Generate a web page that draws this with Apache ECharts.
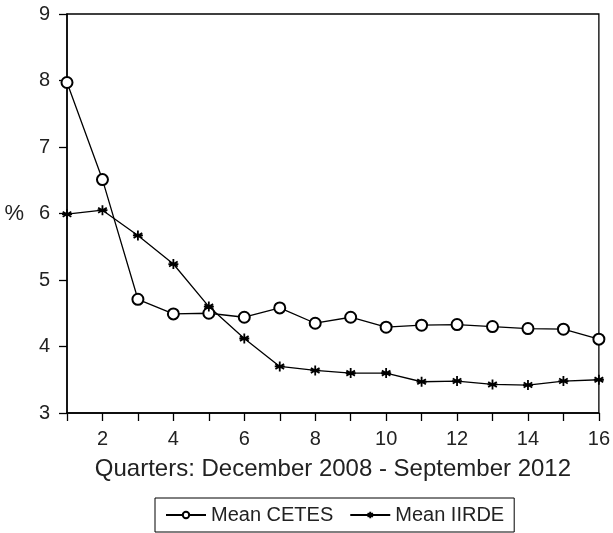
<!DOCTYPE html>
<html>
<head>
<meta charset="utf-8">
<script src="https://cdn.jsdelivr.net/npm/echarts@6/dist/echarts.min.js"></script>
<style>html,body{margin:0;padding:0;background:#fff}#c{width:613px;height:533px}</style>
</head>
<body>
<div id="c"></div>
<script>
var quarters = [1,2,3,4,5,6,7,8,9,10,11,12,13,14,15,16];
var meanCETES = [7.97,6.51,4.71,4.49,4.50,4.44,4.58,4.35,4.44,4.29,4.32,4.33,4.30,4.27,4.26,4.11];
var meanIIRDE = [5.99,6.05,5.67,5.24,4.60,4.12,3.70,3.64,3.60,3.60,3.47,3.48,3.43,3.42,3.48,3.50];
var yTicks = [3,4,5,6,7,8,9];
var xName = 'Quarters: December 2008 - September 2012';
var yName = '%';
var seriesNames = ['Mean CETES','Mean IIRDE'];

function pairs(xs, ys){ return xs.map(function(x,i){ return [x, ys[i]]; }); }
var font = 'Liberation Sans, Arial, Helvetica, sans-serif';
var star = 'path://M0,-5L0,5M-4.33,-2.5L4.33,2.5M-4.33,2.5L4.33,-2.5M-5,0L5,0';

var chart = echarts.init(document.getElementById('c'), null, {renderer:'canvas'});
chart.setOption({
  animation:false,
  backgroundColor:'#fff',
  textStyle:{fontFamily:font, color:'#000'},
  grid:{left:67, right:9, top:14, bottom:120, show:true, borderColor:'#000', borderWidth:1.3, backgroundColor:'transparent'},
  xAxis:{
    type:'value', min:quarters[0], max:quarters[quarters.length-1], interval:1,
    name:xName, nameLocation:'middle', nameGap:44,
    nameTextStyle:{fontSize:24, color:'#222', fontFamily:font},
    axisLine:{lineStyle:{color:'#000', width:1.5}},
    axisTick:{show:true, inside:false, length:8, lineStyle:{color:'#000', width:1.3}},
    axisLabel:{fontSize:20, color:'#222', margin:16, fontFamily:font,
      formatter:function(v){ return v%2===0 ? String(v) : ''; }},
    splitLine:{show:false}
  },
  yAxis:{
    type:'value', min:yTicks[0], max:yTicks[yTicks.length-1], interval:1,
    name:yName, nameLocation:'middle', nameGap:43, nameRotate:0,
    nameTextStyle:{fontSize:22, color:'#222', fontFamily:font},
    axisLine:{show:true, lineStyle:{color:'#000', width:1.5}},
    axisTick:{show:true, inside:false, length:8, lineStyle:{color:'#000', width:1.3}},
    axisLabel:{fontSize:20, color:'#222', margin:17, fontFamily:font},
    splitLine:{show:false}
  },
  legend:{
    left:155, top:498, width:362,
    borderColor:'#000', borderWidth:1, padding:[7,10,7,10], itemGap:16,
    itemWidth:40, itemHeight:8,
    textStyle:{fontSize:20, color:'#222', fontFamily:font},
    data:seriesNames
  },
  series:[
    {name:seriesNames[0], type:'line', data:pairs(quarters, meanCETES),
     symbol:'emptyCircle', symbolSize:11, color:'#000',
     lineStyle:{color:'#000', width:1.3},
     itemStyle:{color:'#000', borderColor:'#000', borderWidth:1}},
    {name:seriesNames[1], type:'line', data:pairs(quarters, meanIIRDE),
     symbol:star, symbolSize:10, color:'#000',
     lineStyle:{color:'#000', width:1.3},
     itemStyle:{color:'#000', borderColor:'#000', borderWidth:1.8}}
  ]
});
</script>
</body>
</html>
